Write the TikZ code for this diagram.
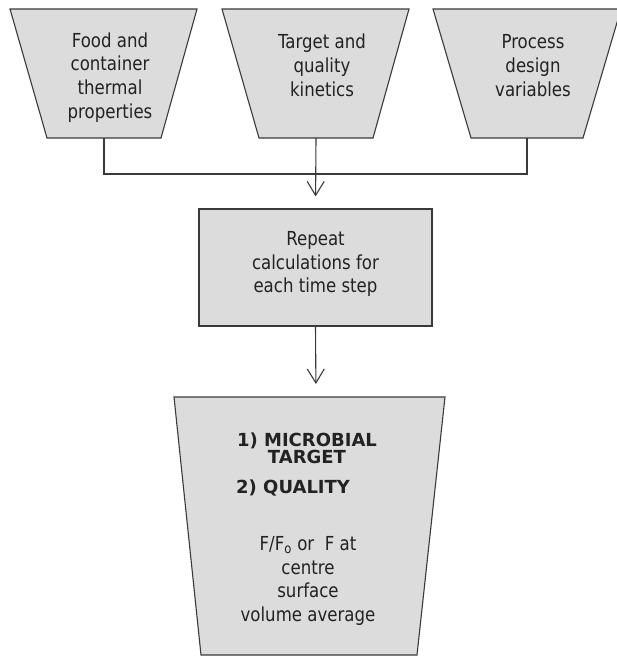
\documentclass[tikz,border=0pt]{standalone}
\usepackage{fontspec}
\setmainfont{DejaVu Sans}[FakeStretch=0.86]
\newfontfamily\boldfam{DejaVu Sans}
\usetikzlibrary{arrows.meta}
\definecolor{boxfill}{HTML}{DCDCDC}
\definecolor{linec}{HTML}{3A3A3A}
\definecolor{textc}{HTML}{222222}
\begin{document}
\begin{tikzpicture}[x=1pt,y=-1pt,
  shapefill/.style={draw=linec, fill=boxfill, line width=1.1pt, line join=miter},
  conn/.style={draw=linec, line width=1.1pt},
  arr/.style={conn, -{Straight Barb[length=14pt,width=17pt,line width=1.1pt]}},
  txt/.style={align=center, font=\fontsize{19.3}{23.7}\selectfont, text=textc, inner sep=0pt},
  btxt/.style={align=center, font=\boldfam\bfseries\fontsize{18}{17}\selectfont, text=textc, inner sep=0pt}]
\useasboundingbox (0,0) rectangle (616,656);
% top trapezoids
\path[shapefill] (10,9) -- (197,9) -- (161,138) -- (47,138) -- cycle;
\path[shapefill] (222,9) -- (409,9) -- (373,138) -- (259,138) -- cycle;
\path[shapefill] (433,9) -- (621,9) -- (583,138) -- (471,138) -- cycle;
\node[txt] (food) at (110,77.5) {Food and\\container\\thermal\\properties};
\node[txt] (kin) at (322,65.5) {Target and\\quality\\kinetics};
\node[txt] (proc) at (533,65.5) {Process\\design\\variables};
\coordinate (foodB) at (104,138);
\coordinate (kinB) at (316,138);
\coordinate (procB) at (527,138);
\coordinate (join) at (316,174);
% middle box
\node[shapefill, minimum width=233pt, minimum height=117pt, inner sep=0pt] (stepbox) at (315.5,267.5) {};
\node[txt] (steptext) at (315.5,264) {Repeat\\calculations for\\each time step};
% bottom trapezoid
\path[shapefill] (174,397) -- (445,397) -- (417,655) -- (201,655) -- cycle;
\coordinate (resTop) at (316,397);
\node[btxt] (micro) at (307,448) {1) MICROBIAL\\TARGET};
\node[btxt, anchor=west] (qual) at (236,488) {2) QUALITY};
\node[txt] (fval) at (308,581) {F/F\textsubscript{o} or\ \ F at\\centre\\surface\\volume average};
% connectors
\draw[conn] (foodB) |- (join);
\draw[conn] (procB) |- (join);
\draw[arr, shorten >=12pt] (kinB) -- (stepbox.north);
\draw[arr, shorten >=13pt] (stepbox.south) -- (resTop);
\end{tikzpicture}
\end{document}
